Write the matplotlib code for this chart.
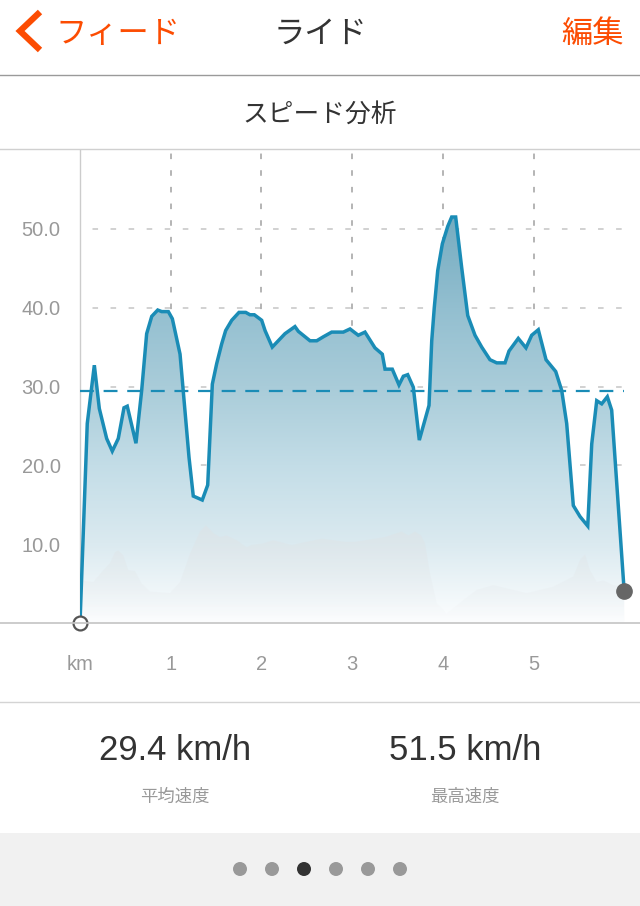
import numpy as np
import matplotlib
matplotlib.use('Agg')
import matplotlib.pyplot as plt
from matplotlib.colors import LinearSegmentedColormap
from matplotlib.lines import Line2D
from matplotlib.patches import Rectangle, Ellipse

plt.rcParams['lines.scale_dashes'] = False

# speed (km/h) against distance (km)
dist = [0.000, 0.080, 0.158, 0.213, 0.294, 0.356, 0.422, 0.485, 0.521, 0.617,
        0.680, 0.735, 0.791, 0.857, 0.901, 0.974, 1.018, 1.103, 1.202, 1.249,
        1.348, 1.408, 1.459, 1.507, 1.562, 1.606, 1.673, 1.753, 1.827, 1.874,
        1.922, 2.003, 2.040, 2.120, 2.260, 2.370, 2.407, 2.536, 2.610, 2.682,
        2.775, 2.903, 2.977, 3.068, 3.142, 3.252, 3.333, 3.363, 3.443, 3.517,
        3.565, 3.613, 3.675, 3.741, 3.848, 3.878, 3.906, 3.944, 3.995, 4.054,
        4.098, 4.142, 4.208, 4.275, 4.355, 4.429, 4.520, 4.594, 4.686, 4.730,
        4.832, 4.917, 4.980, 5.053, 5.138, 5.245, 5.311, 5.366, 5.439, 5.513,
        5.598, 5.642, 5.697, 5.752, 5.814, 5.862, 6.000]
speed = [0.0, 25.3, 32.7, 27.2, 23.4, 21.8, 23.4, 27.3, 27.5, 22.8,
         29.5, 36.7, 38.9, 39.7, 39.5, 39.5, 38.6, 34.1, 21.0, 16.1,
         15.6, 17.5, 30.3, 32.9, 35.4, 37.1, 38.4, 39.4, 39.4, 39.1,
         39.1, 38.4, 37.1, 35.0, 36.7, 37.6, 37.0, 35.8, 35.8, 36.3,
         36.9, 36.9, 37.3, 36.5, 36.9, 34.9, 34.1, 32.2, 32.2, 30.2,
         31.3, 31.5, 29.9, 23.2, 27.6, 35.8, 40.0, 44.7, 48.1, 50.3,
         51.5, 51.5, 45.1, 39.0, 36.5, 35.0, 33.4, 33.0, 33.0, 34.5,
         36.1, 34.9, 36.5, 37.2, 33.4, 31.9, 29.5, 25.3, 14.9, 13.5,
         12.3, 22.7, 28.2, 27.8, 28.7, 27.0, 4.0]

# faint elevation profile behind the speed (scaled to the speed axis)
elev_dist = [0.000, 0.147, 0.257, 0.331, 0.386, 0.422, 0.477, 0.533, 0.606, 0.680,
             0.772, 0.992, 1.103, 1.213, 1.323, 1.389, 1.470, 1.544, 1.617, 1.728,
             1.838, 1.893, 2.021, 2.131, 2.334, 2.665, 2.922, 3.032, 3.363, 3.547,
             3.620, 3.693, 3.760, 3.804, 3.859, 3.933, 4.043, 4.226, 4.374, 4.557,
             4.704, 4.925, 5.218, 5.439, 5.513, 5.568, 5.623, 5.697, 5.770, 5.880,
             6.000]
elev = [5.4, 5.2, 6.7, 7.6, 9.0, 9.2, 8.6, 6.7, 6.6, 5.0,
        4.0, 3.8, 5.2, 8.8, 11.6, 12.4, 11.4, 10.9, 11.1, 10.5,
        9.6, 9.9, 10.1, 10.5, 9.9, 10.7, 10.3, 10.3, 10.9, 11.6,
        11.1, 11.6, 11.1, 10.1, 6.3, 2.5, 1.2, 2.9, 4.2, 4.8,
        4.4, 3.8, 4.6, 5.9, 8.0, 8.7, 6.7, 5.2, 5.4, 4.8,
        4.6]

avg_speed = 29.4
max_speed = 51.5
x_ticks = [0, 1, 2, 3, 4, 5]
x_labels = ['km', '1', '2', '3', '4', '5']
y_ticks = [10, 20, 30, 40, 50]
y_labels = ['10.0', '20.0', '30.0', '40.0', '50.0']
n_pages = 6
active_page = 2

ORANGE = '#fc4c02'
LINE = '#1a8cb6'
JP = ['Noto Sans CJK JP', 'DejaVu Sans']
LAT = ['Liberation Sans', 'DejaVu Sans']

W, H = 640, 906
fx = lambda px: px / W
fy = lambda py: 1 - py / H

fig = plt.figure(figsize=(6.4, 9.06), dpi=100)
fig.patch.set_facecolor('white')

# header (CJK glyphs sit a little high with va=center, so nudge down)
fig.add_artist(Line2D([fx(40), fx(20), fx(40)], [fy(12), fy(31), fy(50)],
                      color=ORANGE, lw=4.5, solid_joinstyle='miter', solid_capstyle='butt'))
fig.text(fx(118), fy(34), 'フィード', color=ORANGE, fontsize=22.5, family=JP, ha='center', va='center')
fig.text(fx(320), fy(34), 'ライド', color='#333333', fontsize=22.5, family=JP, ha='center', va='center')
fig.text(fx(592), fy(34), '編集', color=ORANGE, fontsize=22.5, family=JP, ha='center', va='center')
fig.add_artist(Line2D([0, 1], [fy(75), fy(75)], color='#9a9a9a', lw=1))
fig.text(fx(320), fy(114.5), 'スピード分析', color='#333333', fontsize=18.5, family=JP, ha='center', va='center')
fig.add_artist(Line2D([0, 1], [fy(148.5), fy(148.5)], color='#d0d0d0', lw=1))

# chart
x0_px = 80
km_px = 90.7
ax = fig.add_axes([fx(x0_px), fy(623), 1 - fx(x0_px), (623 - 150) / H])
ax.set_xlim(0, (W - x0_px) / km_px)
ax.set_ylim(0, 60)
for s in ['top', 'right', 'bottom']:
    ax.spines[s].set_visible(False)
ax.spines['left'].set_color('#cccccc')
ax.spines['left'].set_linewidth(1)

ax.hlines([0] + y_ticks, 0, 6, colors='#c9c9c9', lw=1.2, linestyles=(4, (4, 9)), zorder=1)
ax.vlines(x_ticks[1:], 0, 60, colors='#a8a8a8', lw=1.2, linestyles=(2, (4, 8)), zorder=1)

blue_cmap = LinearSegmentedColormap.from_list(
    'sp', [(0, '#fdfeff'), (10 / 52, '#dbeaf0'), (20 / 52, '#c3dde7'),
           (30 / 52, '#a9ccd9'), (40 / 52, '#93bfd0'), (1, '#74abc0')])
poly = ax.fill_between(dist, speed, 0, facecolor='none', edgecolor='none')
grad = np.linspace(0, 1, 256).reshape(-1, 1)
im = ax.imshow(grad, cmap=blue_cmap, origin='lower', extent=[0, 6, 0, 52],
               aspect='auto', zorder=2)
im.set_clip_path(poly.get_paths()[0], ax.transData)

gray_rgba = np.zeros((256, 1, 4))
gray_rgba[..., :3] = np.array([0.88, 0.89, 0.895])
gray_rgba[:, 0, 3] = np.linspace(0.0, 0.42, 256) ** 0.9
gpoly = ax.fill_between(elev_dist, elev, 0, facecolor='none', edgecolor='none')
gim = ax.imshow(gray_rgba, origin='lower', extent=[0, 6, 0, 12.5], aspect='auto', zorder=3)
gim.set_clip_path(gpoly.get_paths()[0], ax.transData)

ax.axhline(avg_speed, xmin=0, xmax=6 / ax.get_xlim()[1], color=LINE, lw=1.6,
           linestyle=(0, (10, 7)), zorder=4)
ax.plot(dist, speed, color=LINE, lw=2.5, zorder=5, solid_joinstyle='miter')
ax.plot(dist[0], speed[0], 'o', ms=10, mfc='white', mec='#555555', mew=1.6, zorder=6, clip_on=False)
ax.plot(dist[-1], speed[-1], 'o', ms=11, mfc='#666666', mec='#666666', zorder=6, clip_on=False)

ax.set_xticks(x_ticks, x_labels, fontsize=14.5, color='#999999', family=LAT)
ax.set_yticks(y_ticks, y_labels, fontsize=14.5, color='#999999', family=LAT)
ax.tick_params(axis='x', length=0, pad=23)
ax.tick_params(axis='y', length=0, pad=14)

fig.add_artist(Line2D([0, 1], [fy(623), fy(623)], color='#c4c4c4', lw=1.2))
fig.add_artist(Line2D([0, 1], [fy(701.5), fy(701.5)], color='#d4d4d4', lw=1))

# stats
fig.text(fx(175), fy(751), f'{avg_speed:.1f} km/h', color='#333333', fontsize=25, family=LAT,
         ha='center', va='center')
fig.text(fx(465), fy(751), f'{max_speed:.1f} km/h', color='#333333', fontsize=25, family=LAT,
         ha='center', va='center')
fig.text(fx(175), fy(797), '平均速度', color='#999999', fontsize=12.5, family=JP, ha='center', va='center')
fig.text(fx(465), fy(797), '最高速度', color='#999999', fontsize=12.5, family=JP, ha='center', va='center')

# page indicator
fig.add_artist(Rectangle((0, 0), 1, (H - 833) / H, facecolor='#f1f1f1', edgecolor='none'))
for i in range(n_pages):
    c = '#333333' if i == active_page else '#999999'
    fig.add_artist(Ellipse((fx(240 + 32 * i), fy(869)), 14 / W, 14 / H, facecolor=c, edgecolor='none'))

fig.savefig('out.png', dpi=100, facecolor='white')
